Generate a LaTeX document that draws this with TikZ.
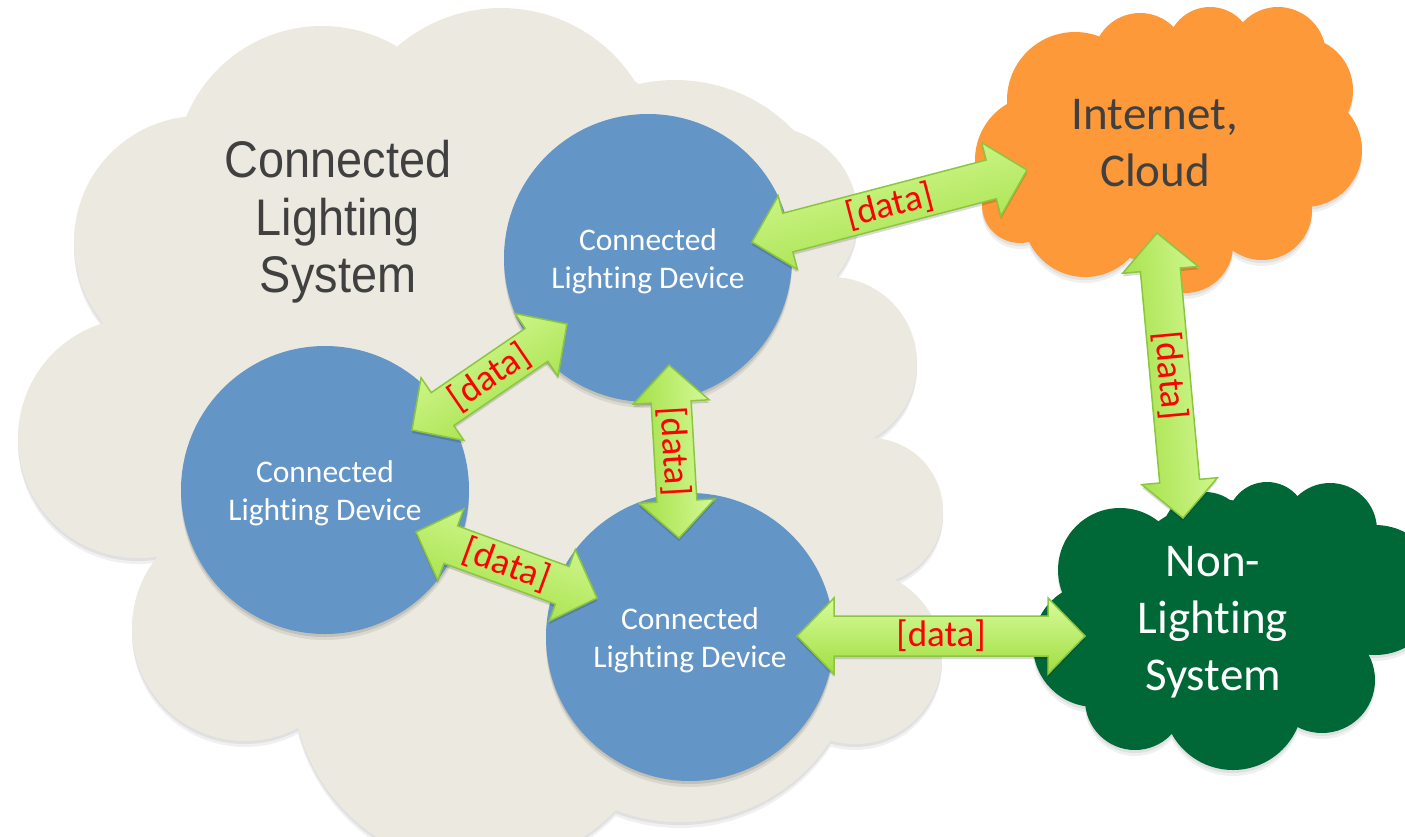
\documentclass[tikz,border=0pt]{standalone}
\usepackage{fontspec}
\setmainfont{Carlito}[Ligatures=NoCommon]
\newfontfamily\headfont[FakeStretch=0.91]{Liberation Sans}
\usetikzlibrary{calc}

\definecolor{cloudbeige}{RGB}{236,234,224}
\definecolor{devblue}{RGB}{100,149,199}
\definecolor{netorange}{RGB}{253,153,56}
\definecolor{sysgreen}{RGB}{0,104,55}
\definecolor{textgray}{RGB}{64,64,64}
\definecolor{arrowlight}{RGB}{216,251,156}
\definecolor{arrowdark}{RGB}{160,222,64}
\definecolor{arrowline}{RGB}{140,198,63}
\definecolor{datared}{RGB}{255,0,0}

% lobes of the three clouds: x/y/radius
\def\beigelobes{322/173/147, 501/167/159, 675/245/165, 768/217/90, 831/363/86,
  870/511/73, 855/657/87, 680/642/180, 480/680/188, 245/628/113, 138/438/120, 200/242/126}
\def\orangelobes{1040/160/65, 1020/205/38, 1085/215/62, 1185/245/48, 1262/210/50,
  1305/150/57, 1300/90/53, 1278/55/48, 1210/50/43, 1140/60/47, 1075/100/68, 1170/150/115}
\def\greenlobes{1120/570/62, 1205/535/43, 1267/522/40, 1330/530/47, 1375/590/65,
  1322/680/53, 1233/700/70, 1135/700/50, 1095/645/62, 1225/615/115}

% block double arrow between two named points
\def\dhlen{37pt}\def\dhwid{38pt}\def\dswid{20pt}
\newcommand\dataarrow[2]{%
  \pgfmathanglebetweenpoints{\pgfpointanchor{#1}{center}}{\pgfpointanchor{#2}{center}}%
  \let\arrang\pgfmathresult
  \path[arrow body, shading angle=\arrang]
    (#1) -- ($(#1)!\dhlen!(#2)!\dhwid!90:(#2)$) -- ($(#1)!\dhlen!(#2)!\dswid!90:(#2)$)
    -- ($(#2)!\dhlen!(#1)!\dswid!-90:(#1)$) -- ($(#2)!\dhlen!(#1)!\dhwid!-90:(#1)$)
    -- (#2) -- ($(#2)!\dhlen!(#1)!\dhwid!90:(#1)$) -- ($(#2)!\dhlen!(#1)!\dswid!90:(#1)$)
    -- ($(#1)!\dhlen!(#2)!\dswid!-90:(#2)$) -- ($(#1)!\dhlen!(#2)!\dhwid!-90:(#2)$) -- cycle;
  \path (#1) -- node[data label, sloped] {[data]} (#2);
}

\tikzset{
  device/.style={circle, fill=devblue, minimum size=288pt, inner sep=0pt,
    align=center, text=white, font=\fontsize{31.5}{38}\selectfont,
    preaction={fill=black, opacity=.08, transform canvas={yshift=-6pt}},
    preaction={fill=black, opacity=.10, transform canvas={yshift=-3pt}}},
  cloud text/.style={align=center, font=\fontsize{47}{57}\selectfont, inner sep=0pt},
  arrow body/.style={draw=arrowline, line width=1.5pt, line join=miter,
    top color=arrowlight, bottom color=arrowdark,
    preaction={fill=black, opacity=.15, transform canvas={yshift=-3pt}}},
  data label/.style={text=datared, inner sep=0pt, font=\fontsize{37}{42}\selectfont},
  shadow far/.style={fill=black!6, transform canvas={yshift=-6pt}},
  shadow near/.style={fill=black!12, transform canvas={yshift=-3pt}},
}
\newcommand\devtext{\rule{0pt}{29pt}Connected\\Lighting Device}

\begin{document}
\begin{tikzpicture}[x=1pt, y=-1pt]
\useasboundingbox (0,0) rectangle (1405,836);
\clip (0,0) rectangle (1405,836);

% connected lighting system cloud
\path[shadow far] foreach \cx/\cy/\r in \beigelobes {(\cx,\cy) circle[radius=\r]};
\path[shadow near] foreach \cx/\cy/\r in \beigelobes {(\cx,\cy) circle[radius=\r]};
\fill[cloudbeige] foreach \cx/\cy/\r in \beigelobes {(\cx,\cy) circle[radius=\r]};
\fill[cloudbeige] (187,117) -- (397,47) -- (636,82) -- (835,277) -- (873,438) -- (895,580)
  -- (831,740) -- (616,810) -- (480,850) -- (300,727) -- (157,557) -- (103,323) -- cycle;

% internet cloud
\path[shadow far] foreach \cx/\cy/\r in \orangelobes {(\cx,\cy) circle[radius=\r]};
\path[shadow near] foreach \cx/\cy/\r in \orangelobes {(\cx,\cy) circle[radius=\r]};
\fill[netorange] foreach \cx/\cy/\r in \orangelobes {(\cx,\cy) circle[radius=\r]};

% non-lighting system cloud
\path[shadow far] foreach \cx/\cy/\r in \greenlobes {(\cx,\cy) circle[radius=\r]};
\path[shadow near] foreach \cx/\cy/\r in \greenlobes {(\cx,\cy) circle[radius=\r]};
\fill[sysgreen] foreach \cx/\cy/\r in \greenlobes {(\cx,\cy) circle[radius=\r]};

% titles
\node[align=center, inner sep=0pt, text=textgray, font=\headfont\fontsize{51.5}{57.5}\selectfont]
  (cls) at (338,222) {Connected\\Lighting\hspace*{13pt}\\System};
\node[cloud text, text=textgray] (inet) at (1155,143) {Internet,\\Cloud};
\node[cloud text, text=white] (nonls) at (1213,622) {Non-\\Lighting\\System};

% devices
\node[device] (dtop) at (648,258) {\devtext};
\node[device] (dleft) at (325,490) {\devtext};
\node[device] (dbot) at (690,637) {\devtext};

% arrow ends
\coordinate (top-net) at (752,242);   \coordinate (net-top) at (1027,170);
\coordinate (net-nls) at (1157,233);  \coordinate (nls-net) at (1183,518);
\coordinate (left-top) at (412,430);  \coordinate (top-left) at (567,324);
\coordinate (top-bot) at (669,365);   \coordinate (bot-top) at (679,538);
\coordinate (left-bot) at (416,532);  \coordinate (bot-left) at (597,598);
\coordinate (bot-nls) at (797,636);   \coordinate (nls-bot) at (1085,636);

\dataarrow{top-net}{net-top}
\dataarrow{net-nls}{nls-net}
\dataarrow{left-top}{top-left}
\dataarrow{top-bot}{bot-top}
\dataarrow{left-bot}{bot-left}
\dataarrow{bot-nls}{nls-bot}
\end{tikzpicture}
\end{document}
